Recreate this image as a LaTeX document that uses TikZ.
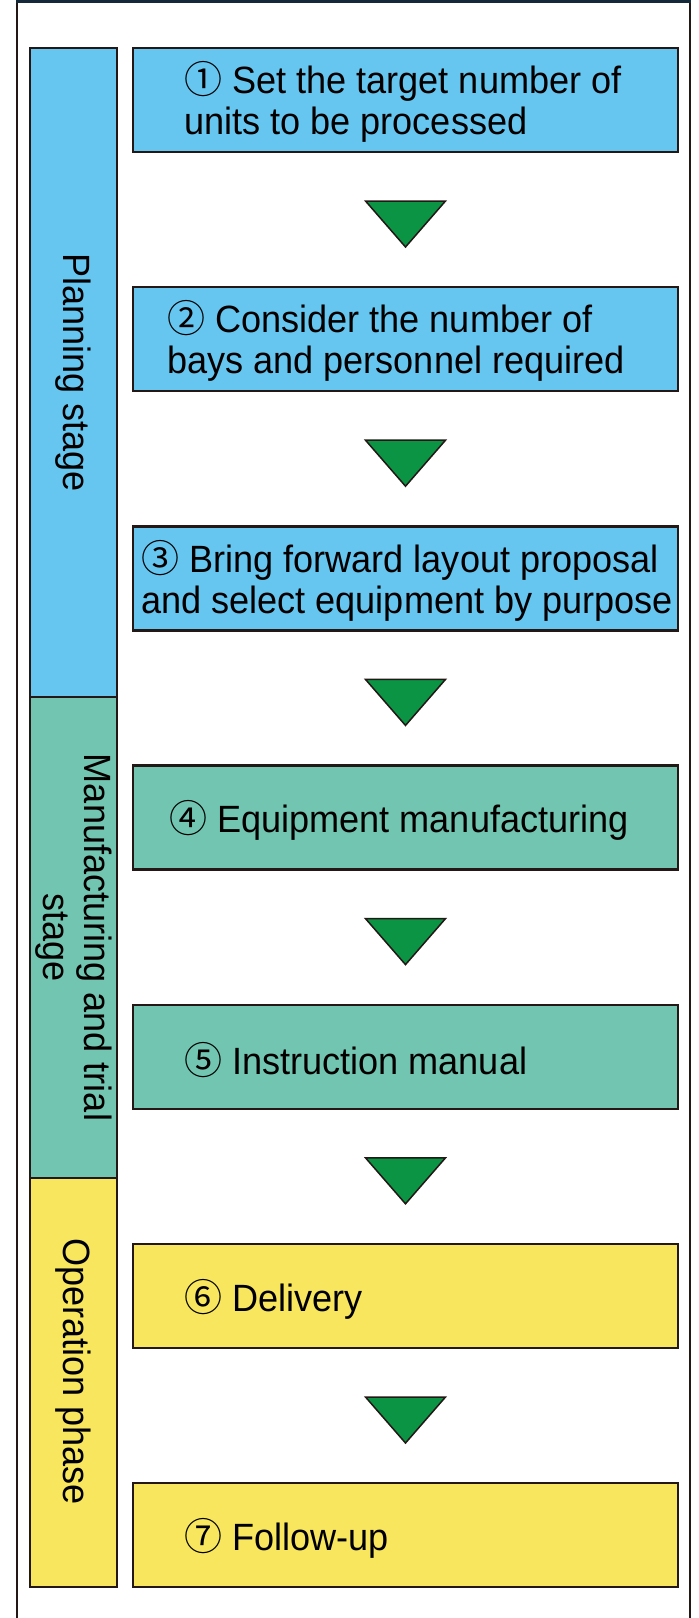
\documentclass[tikz,border=0pt]{standalone}
\usepackage{fontspec}
\setmainfont[FakeStretch=0.95]{Liberation Sans}
\newfontfamily\circfont{Noto Sans CJK SC}
\usetikzlibrary{positioning}
\definecolor{planblue}{HTML}{66C6F0}
\definecolor{maketeal}{HTML}{72C5B1}
\definecolor{runyellow}{HTML}{F8E65E}
\definecolor{arrowgreen}{HTML}{0A9444}
\definecolor{edge}{HTML}{231815}
\definecolor{framenavy}{HTML}{14293A}
\newcommand{\stepno}[1]{{\circfont #1}}
\tikzset{
  stepbox/.style = {rectangle, draw=edge, line width=2.5pt, fill=#1,
                    minimum width=545pt, minimum height=104pt,
                    inner sep=0pt, outer sep=0pt},
  stepbox/.default = planblue,
  steptext/.style = {anchor=west, align=left, inner sep=0pt,
                     font=\fontsize{38}{41}\selectfont},
  stagebox/.style = {rectangle, draw=edge, line width=2.5pt, fill=#1,
                     rotate=-90, minimum height=87pt, align=center,
                     inner sep=0pt, font=\fontsize{38}{41}\selectfont},
  stagetext/.style = {rotate=-90, align=center, inner sep=0pt,
                      font=\fontsize{38}{41}\selectfont},
  downtri/.style = {fill=arrowgreen, draw=edge, line width=1.5pt}
}
\begin{document}
\begin{tikzpicture}[x=1pt, y=-1pt]
	\def \gap{239.2}
	\def \cx{405.5}
	\useasboundingbox (0,0) rectangle (699,1618);

	% Frame
	\draw[edge, line width=2pt] (17,1620) -- (17,1.5) -- (690,1.5) -- (690,1620);
	\draw[framenavy, line width=3.5pt] (16,1.5) -- (691,1.5);

	% Stages
	\node[stagebox=planblue, minimum width=649pt] (plan) at (73.5,372.5) {Planning stage};
	\node[stagebox=maketeal, minimum width=481pt] (make) at (73.5,937.5) {Manufacturing and trial\\stage};
	\node[stagebox=runyellow, minimum width=409pt] (run) at (73.5,1382.5) {};
	\node[stagetext] (runlabel) at ([yshift=11pt]run.center) {Operation phase};

	% Steps
	\node[stepbox=planblue] (s1) at (\cx,100) {};
	\node[stepbox=planblue] (s2) at (\cx,{100+1*\gap}) {};
	\node[stepbox=planblue] (s3) at (\cx,{100+2*\gap}) {};
	\node[stepbox=maketeal] (s4) at (\cx,{100+3*\gap}) {};
	\node[stepbox=maketeal] (s5) at (\cx,{100+4*\gap}) {};
	\node[stepbox=runyellow] (s6) at (\cx,{100+5*\gap}) {};
	\node[stepbox=runyellow] (s7) at (\cx,{100+6*\gap}) {};

	% Step texts
	\node[steptext, right=51pt of s1.west, yshift=-2pt] (t1) {\stepno{①} Set the target number of\\units to be processed};
	\node[steptext, right=34pt of s2.west, yshift=-2pt] (t2) {\stepno{②} Consider the number of\\bays and personnel required};
	\node[steptext, right=8pt of s3.west, yshift=-2pt] (t3) {\stepno{③} Bring forward layout proposal\\and select equipment by purpose};
	\node[steptext, right=36pt of s4.west, yshift=-3pt] (t4) {\stepno{④} Equipment manufacturing};
	\node[steptext, right=51pt of s5.west, yshift=-3pt] (t5) {\stepno{⑤} Instruction manual};
	\node[steptext, right=51pt of s6.west, yshift=-3pt] (t6) {\stepno{⑥} Delivery};
	\node[steptext, right=51pt of s7.west, yshift=-3pt] (t7) {\stepno{⑦} Follow-up};

	% Arrows
	\draw[downtri] ([xshift=-40pt,yshift=-49pt]s1.south) -- ++(80,0) -- ([yshift=-95pt]s1.south) -- cycle;
	\draw[downtri] ([xshift=-40pt,yshift=-49pt]s2.south) -- ++(80,0) -- ([yshift=-95pt]s2.south) -- cycle;
	\draw[downtri] ([xshift=-40pt,yshift=-49pt]s3.south) -- ++(80,0) -- ([yshift=-95pt]s3.south) -- cycle;
	\draw[downtri] ([xshift=-40pt,yshift=-49pt]s4.south) -- ++(80,0) -- ([yshift=-95pt]s4.south) -- cycle;
	\draw[downtri] ([xshift=-40pt,yshift=-49pt]s5.south) -- ++(80,0) -- ([yshift=-95pt]s5.south) -- cycle;
	\draw[downtri] ([xshift=-40pt,yshift=-49pt]s6.south) -- ++(80,0) -- ([yshift=-95pt]s6.south) -- cycle;

\end{tikzpicture}
\end{document}
